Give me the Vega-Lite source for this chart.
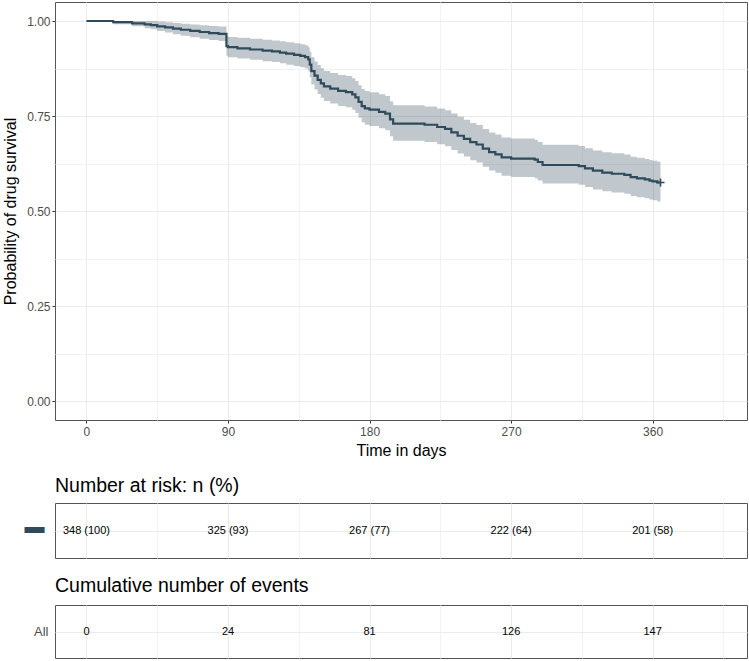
{
  "$schema": "https://vega.github.io/schema/vega-lite/v6.json",
  "padding": {"left": 2, "top": 1, "right": 1, "bottom": 2},
  "background": "white",
  "datasets": {
    "km": [
      {"t":0,"s":1,"lo":1,"hi":1},
      {"t":17,"s":0.997,"lo":0.9913,"hi":1},
      {"t":29,"s":0.994,"lo":0.9859,"hi":1},
      {"t":37,"s":0.991,"lo":0.9811,"hi":1},
      {"t":41,"s":0.989,"lo":0.9781,"hi":1},
      {"t":45,"s":0.986,"lo":0.9737,"hi":0.9984},
      {"t":50,"s":0.983,"lo":0.9695,"hi":0.9967},
      {"t":55,"s":0.980,"lo":0.9654,"hi":0.9948},
      {"t":60,"s":0.977,"lo":0.9614,"hi":0.9929},
      {"t":66,"s":0.974,"lo":0.9574,"hi":0.9909},
      {"t":72,"s":0.971,"lo":0.9535,"hi":0.9888},
      {"t":78,"s":0.968,"lo":0.9497,"hi":0.9867},
      {"t":84,"s":0.966,"lo":0.9471,"hi":0.9852},
      {"t":89,"s":0.934,"lo":0.9083,"hi":0.9604},
      {"t":90,"s":0.931,"lo":0.9048,"hi":0.958},
      {"t":96,"s":0.928,"lo":0.9012,"hi":0.9556},
      {"t":104,"s":0.925,"lo":0.8977,"hi":0.9531},
      {"t":112,"s":0.922,"lo":0.8943,"hi":0.9506},
      {"t":118,"s":0.920,"lo":0.8919,"hi":0.9489},
      {"t":123,"s":0.917,"lo":0.8885,"hi":0.9464},
      {"t":127,"s":0.914,"lo":0.8851,"hi":0.9439},
      {"t":132,"s":0.911,"lo":0.8816,"hi":0.9414},
      {"t":136,"s":0.908,"lo":0.8782,"hi":0.9389},
      {"t":139,"s":0.905,"lo":0.8747,"hi":0.9363},
      {"t":141,"s":0.899,"lo":0.8679,"hi":0.9312},
      {"t":142,"s":0.885,"lo":0.8521,"hi":0.9191},
      {"t":143,"s":0.868,"lo":0.8331,"hi":0.9043},
      {"t":145,"s":0.856,"lo":0.8199,"hi":0.8937},
      {"t":147,"s":0.845,"lo":0.8078,"hi":0.8839},
      {"t":149,"s":0.836,"lo":0.798,"hi":0.8758},
      {"t":151,"s":0.828,"lo":0.7893,"hi":0.8686},
      {"t":155,"s":0.822,"lo":0.7828,"hi":0.8632},
      {"t":160,"s":0.816,"lo":0.7763,"hi":0.8577},
      {"t":165,"s":0.813,"lo":0.7731,"hi":0.855},
      {"t":169,"s":0.807,"lo":0.7666,"hi":0.8495},
      {"t":171,"s":0.799,"lo":0.758,"hi":0.8422},
      {"t":173,"s":0.787,"lo":0.7452,"hi":0.8312},
      {"t":175,"s":0.776,"lo":0.7334,"hi":0.821},
      {"t":177,"s":0.770,"lo":0.7271,"hi":0.8155},
      {"t":180,"s":0.767,"lo":0.7239,"hi":0.8127},
      {"t":186,"s":0.761,"lo":0.7175,"hi":0.8071},
      {"t":190,"s":0.756,"lo":0.7122,"hi":0.8025},
      {"t":193,"s":0.741,"lo":0.6964,"hi":0.7885},
      {"t":195,"s":0.730,"lo":0.6848,"hi":0.7781},
      {"t":215,"s":0.727,"lo":0.6817,"hi":0.7753},
      {"t":223,"s":0.721,"lo":0.6754,"hi":0.7697},
      {"t":228,"s":0.716,"lo":0.6702,"hi":0.765},
      {"t":232,"s":0.707,"lo":0.6608,"hi":0.7564},
      {"t":236,"s":0.698,"lo":0.6514,"hi":0.7479},
      {"t":240,"s":0.690,"lo":0.6431,"hi":0.7403},
      {"t":244,"s":0.681,"lo":0.6338,"hi":0.7317},
      {"t":248,"s":0.675,"lo":0.6276,"hi":0.726},
      {"t":252,"s":0.664,"lo":0.6162,"hi":0.7155},
      {"t":256,"s":0.655,"lo":0.6069,"hi":0.7069},
      {"t":260,"s":0.649,"lo":0.6007,"hi":0.7011},
      {"t":264,"s":0.641,"lo":0.5926,"hi":0.6934},
      {"t":270,"s":0.638,"lo":0.5895,"hi":0.6905},
      {"t":285,"s":0.635,"lo":0.5864,"hi":0.6876},
      {"t":287,"s":0.629,"lo":0.5803,"hi":0.6818},
      {"t":290,"s":0.621,"lo":0.5722,"hi":0.6741},
      {"t":313,"s":0.618,"lo":0.5691,"hi":0.6712},
      {"t":317,"s":0.612,"lo":0.5629,"hi":0.6653},
      {"t":322,"s":0.606,"lo":0.5568,"hi":0.6595},
      {"t":328,"s":0.601,"lo":0.5517,"hi":0.6547},
      {"t":334,"s":0.598,"lo":0.5487,"hi":0.6517},
      {"t":342,"s":0.595,"lo":0.5456,"hi":0.6488},
      {"t":346,"s":0.589,"lo":0.5396,"hi":0.643},
      {"t":350,"s":0.586,"lo":0.5365,"hi":0.64},
      {"t":355,"s":0.583,"lo":0.5335,"hi":0.6371},
      {"t":358,"s":0.580,"lo":0.5305,"hi":0.6342},
      {"t":360,"s":0.578,"lo":0.5284,"hi":0.6322},
      {"t":363,"s":0.575,"lo":0.5253,"hi":0.6293},
      {"t":365,"s":0.575,"lo":0.5253,"hi":0.6293}
    ],
    "censor": [{"t":365,"s":0.575}],
    "risk": [
      {"t":0,"group":"All","label":"348 (100)"},
      {"t":90,"group":"All","label":"325 (93)"},
      {"t":180,"group":"All","label":"267 (77)"},
      {"t":270,"group":"All","label":"222 (64)"},
      {"t":360,"group":"All","label":"201 (58)"}
    ],
    "events": [
      {"t":0,"group":"All","label":"0"},
      {"t":90,"group":"All","label":"24"},
      {"t":180,"group":"All","label":"81"},
      {"t":270,"group":"All","label":"126"},
      {"t":360,"group":"All","label":"147"}
    ]
  },
  "vconcat": [
    {
      "width": 692,
      "height": 418,
      "layer": [
        {
          "data": {"name": "km"},
          "mark": {"type": "area", "interpolate": "step-after", "color": "#2E4A5B", "opacity": 0.3},
          "encoding": {
            "x": {"field": "t", "type": "quantitative", "scale": {"domain": [-20, 420], "nice": false, "zero": false},
              "axis": {"title": "Time in days", "values": [0,45,90,135,180,225,270,315,360,405],
                "labelExpr": "datum.value % 90 === 0 ? datum.label : ''",
                "tickOpacity": {"condition": {"test": "datum.value % 90 === 0", "value": 1}, "value": 0},
                "gridColor": {"condition": {"test": "datum.value % 90 === 0", "value": "#ebebeb"}, "value": "#f2f2f2"},
                "labelPadding": 3, "titlePadding": 5}},
            "y": {"field": "lo", "type": "quantitative", "scale": {"domain": [-0.05, 1.05], "nice": false, "zero": false},
              "axis": {"title": "Probability of drug survival", "values": [0,0.125,0.25,0.375,0.5,0.625,0.75,0.875,1],
                "labelExpr": "(datum.value * 4) % 1 === 0 ? format(datum.value, '.2f') : ''",
                "tickOpacity": {"condition": {"test": "(datum.value * 4) % 1 === 0", "value": 1}, "value": 0},
                "gridColor": {"condition": {"test": "(datum.value * 4) % 1 === 0", "value": "#ebebeb"}, "value": "#f2f2f2"},
                "labelPadding": 2, "titlePadding": 8}},
            "y2": {"field": "hi"}
          }
        },
        {
          "data": {"name": "km"},
          "mark": {"type": "line", "interpolate": "step-after", "color": "#2E4A5B", "strokeWidth": 2.2},
          "encoding": {
            "x": {"field": "t", "type": "quantitative"},
            "y": {"field": "s", "type": "quantitative"}
          }
        },
        {
          "data": {"name": "censor"},
          "mark": {"type": "point", "shape": "M-1,0H1M0,-1V1", "filled": false, "color": "#2E4A5B", "strokeWidth": 1.6, "size": 64, "opacity": 1},
          "encoding": {
            "x": {"field": "t", "type": "quantitative"},
            "y": {"field": "s", "type": "quantitative"}
          }
        }
      ]
    },
    {
      "title": {"text": "Number at risk: n (%)", "anchor": "start", "frame": "group", "baseline": "alphabetic", "offset": -8, "fontSize": 19.5, "fontWeight": "normal", "font": "Liberation Sans", "color": "#000"},
      "width": 692,
      "height": 55,
      "data": {"name": "risk"},
      "mark": {"type": "text", "font": "Liberation Sans", "fontSize": 11, "color": "#000"},
      "encoding": {
        "x": {"field": "t", "type": "quantitative", "scale": {"domain": [-20, 420], "nice": false, "zero": false},
          "axis": {"title": null, "values": [0,45,90,135,180,225,270,315,360,405], "labels": false, "ticks": false,
            "gridColor": {"condition": {"test": "datum.value % 90 === 0", "value": "#ebebeb"}, "value": "#f2f2f2"}}},
        "y": {"field": "group", "type": "nominal",
          "axis": {"title": null, "ticks": false, "labelExpr": "'▬'", "labelColor": "#2E4A5B", "labelFontSize": 20, "labelPadding": 11, "labelOffset": -4, "grid": true}},
        "text": {"field": "label"}
      }
    },
    {
      "title": {"text": "Cumulative number of events", "anchor": "start", "frame": "group", "baseline": "alphabetic", "offset": -6.5, "fontSize": 19.5, "fontWeight": "normal", "font": "Liberation Sans", "color": "#000"},
      "width": 692,
      "height": 53,
      "data": {"name": "events"},
      "mark": {"type": "text", "font": "Liberation Sans", "fontSize": 11, "color": "#000"},
      "encoding": {
        "x": {"field": "t", "type": "quantitative", "scale": {"domain": [-20, 420], "nice": false, "zero": false},
          "axis": {"title": null, "values": [0,45,90,135,180,225,270,315,360,405], "labels": false, "ticks": false,
            "gridColor": {"condition": {"test": "datum.value % 90 === 0", "value": "#ebebeb"}, "value": "#f2f2f2"}}},
        "y": {"field": "group", "type": "nominal",
          "axis": {"title": null, "ticks": false, "labelFontSize": 13, "labelPadding": 7, "grid": true}},
        "text": {"field": "label"}
      }
    }
  ],
  "spacing": 16,
  "config": {
    "font": "Liberation Sans",
    "view": {"stroke": "#555555", "strokeWidth": 1},
    "axis": {
      "labelFont": "Liberation Sans", "titleFont": "Liberation Sans",
      "labelColor": "#4d4d4d", "labelFontSize": 12,
      "titleFontSize": 16, "titleFontWeight": "normal", "titleColor": "#000",
      "tickColor": "#333333", "tickSize": 3, "tickWidth": 1,
      "domain": false, "gridColor": "#ebebeb", "gridWidth": 1
    }
  }
}
